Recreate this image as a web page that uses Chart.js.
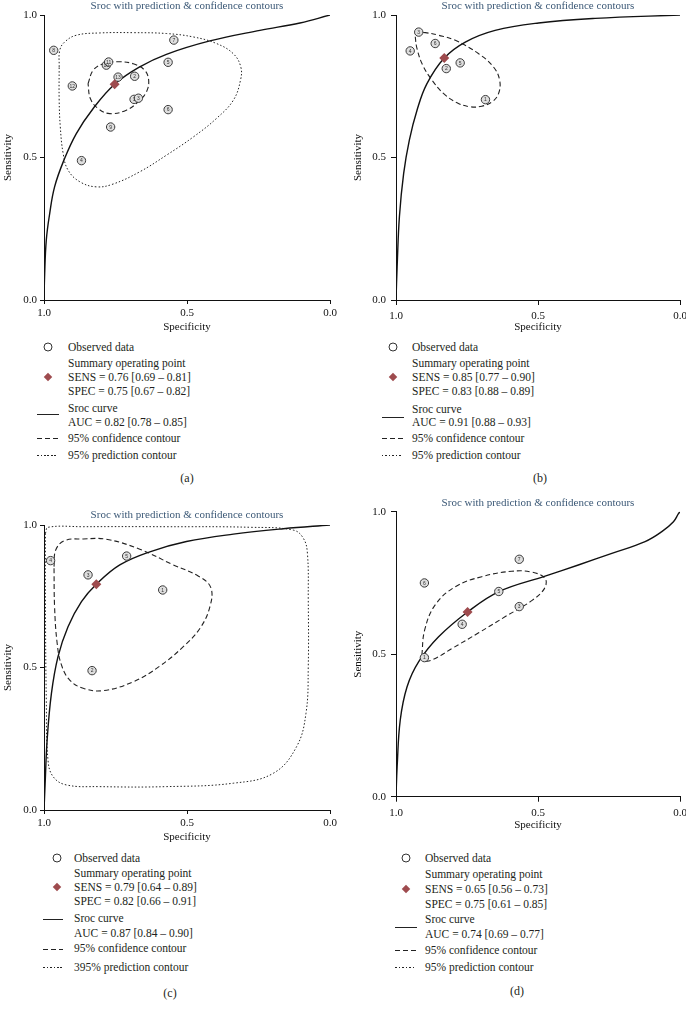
<!DOCTYPE html>
<html>
<head>
<meta charset="utf-8">
<script src="https://cdn.jsdelivr.net/npm/chart.js@4.4.1/dist/chart.umd.min.js"></script>
<style>
body { margin: 0; background: #fff; width: 686px; height: 1009px; position: relative; overflow: hidden; font-family: "Liberation Serif", serif; }
canvas { position: absolute; }
.t { position: absolute; font-size: 11.5px; line-height: 14px; color: #231f20; white-space: nowrap; }
.cap { position: absolute; font-size: 12px; line-height: 14px; color: #231f20; transform: translateX(-50%); }
.circ { position: absolute; width: 7px; height: 7px; border: 1.3px solid #333; border-radius: 50%; background: #fff; transform: translate(-50%, -50%); }
.dia { position: absolute; width: 6px; height: 6px; background: #9e4b4e; transform: translate(-50%, -50%) rotate(45deg); }
.ln { position: absolute; height: 1.3px; background: #222; }
.dash { position: absolute; height: 1.2px; background: repeating-linear-gradient(90deg, #222 0 5px, transparent 5px 8px); }
.dot { position: absolute; height: 1px; background: repeating-linear-gradient(90deg, #222 0 1.5px, transparent 1.5px 3.5px); }
</style>
</head>
<body>
<canvas id="ca" width="345" height="340" style="left:0;top:0"></canvas>
<canvas id="cb" width="341" height="340" style="left:345px;top:0"></canvas>
<canvas id="cc" width="345" height="350" style="left:0;top:500px"></canvas>
<canvas id="cd" width="341" height="346" style="left:345px;top:490px"></canvas>

<!-- legend (a) -->
<div class="circ" style="left:48px;top:347px"></div>
<div class="t" style="left:68px;top:340px">Observed data</div>
<div class="t" style="left:68px;top:355.7px">Summary operating point</div>
<div class="dia" style="left:48px;top:377px"></div>
<div class="t" style="left:68px;top:369.7px">SENS = 0.76 [0.69 – 0.81]</div>
<div class="t" style="left:68px;top:384px">SPEC = 0.75 [0.67 – 0.82]</div>
<div class="ln" style="left:37px;top:414px;width:22px"></div>
<div class="t" style="left:68px;top:401px">Sroc curve</div>
<div class="t" style="left:68px;top:414.7px">AUC = 0.82 [0.78 – 0.85]</div>
<div class="dash" style="left:37px;top:438px;width:21px"></div>
<div class="t" style="left:68px;top:431px">95% confidence contour</div>
<div class="dot" style="left:37px;top:455px;width:21px"></div>
<div class="t" style="left:68px;top:448px">95% prediction contour</div>
<div class="cap" style="left:187px;top:471px">(a)</div>

<!-- legend (b) -->
<div class="circ" style="left:392.7px;top:347px"></div>
<div class="t" style="left:412px;top:340px">Observed data</div>
<div class="t" style="left:412px;top:355.7px">Summary operating point</div>
<div class="dia" style="left:392.7px;top:377px"></div>
<div class="t" style="left:412px;top:369.7px">SENS = 0.85 [0.77 – 0.90]</div>
<div class="t" style="left:412px;top:384px">SPEC = 0.83 [0.88 – 0.89]</div>
<div class="ln" style="left:382px;top:416.7px;width:22px"></div>
<div class="t" style="left:412px;top:401.7px">Sroc curve</div>
<div class="t" style="left:412px;top:414.7px">AUC = 0.91 [0.88 – 0.93]</div>
<div class="dash" style="left:382px;top:438px;width:21px"></div>
<div class="t" style="left:412px;top:431px">95% confidence contour</div>
<div class="dot" style="left:382px;top:455px;width:21px"></div>
<div class="t" style="left:412px;top:448px">95% prediction contour</div>
<div class="cap" style="left:540px;top:471px">(b)</div>

<!-- legend (c) -->
<div class="circ" style="left:57px;top:858px"></div>
<div class="t" style="left:74px;top:850.7px">Observed data</div>
<div class="t" style="left:74px;top:865.7px">Summary operating point</div>
<div class="dia" style="left:57px;top:887px"></div>
<div class="t" style="left:74px;top:879.7px">SENS = 0.79 [0.64 – 0.89]</div>
<div class="t" style="left:74px;top:894px">SPEC = 0.82 [0.66 – 0.91]</div>
<div class="ln" style="left:43px;top:918.5px;width:20px"></div>
<div class="t" style="left:74px;top:911.3px">Sroc curve</div>
<div class="t" style="left:74px;top:925.7px">AUC = 0.87 [0.84 – 0.90]</div>
<div class="dash" style="left:43px;top:948.5px;width:20px"></div>
<div class="t" style="left:74px;top:941.3px">95% confidence contour</div>
<div class="dot" style="left:43px;top:966.5px;width:20px"></div>
<div class="t" style="left:74px;top:959.7px">395% prediction contour</div>
<div class="cap" style="left:170px;top:986px">(c)</div>

<!-- legend (d) -->
<div class="circ" style="left:405.7px;top:858px"></div>
<div class="t" style="left:425px;top:851.3px">Observed data</div>
<div class="t" style="left:425px;top:867.3px">Summary operating point</div>
<div class="dia" style="left:405.7px;top:889px"></div>
<div class="t" style="left:425px;top:882px">SENS = 0.65 [0.56 – 0.73]</div>
<div class="t" style="left:425px;top:897.3px">SPEC = 0.75 [0.61 – 0.85]</div>
<div class="ln" style="left:395px;top:927px;width:22px"></div>
<div class="t" style="left:425px;top:912.3px">Sroc curve</div>
<div class="t" style="left:425px;top:927.3px">AUC = 0.74 [0.69 – 0.77]</div>
<div class="dash" style="left:395px;top:950px;width:21px"></div>
<div class="t" style="left:425px;top:943px">95% confidence contour</div>
<div class="dot" style="left:395px;top:967px;width:21px"></div>
<div class="t" style="left:425px;top:959.7px">95% prediction contour</div>
<div class="cap" style="left:517px;top:984px">(d)</div>

<script>
// axis ticks shared by all four panels
const tickVals = [0, 0.5, 1];

// ---- panel (a) ----
const idsA = [1, 2, 3, 4, 5, 6, 7, 8, 9, 10, 11, 12, 13];
const specA = [0.685, 0.683, 0.670, 0.869, 0.566, 0.566, 0.546, 0.966, 0.767, 0.782, 0.774, 0.901, 0.741];
const sensA = [0.704, 0.785, 0.708, 0.489, 0.834, 0.668, 0.912, 0.876, 0.607, 0.824, 0.835, 0.751, 0.782];
const sumA = [0.753, 0.757];
const srocSpecA = [1.0, 0.998, 0.992, 0.980, 0.963, 0.931, 0.887, 0.828, 0.753, 0.665, 0.572, 0.420, 0.245, 0.105, 0.0];
const srocSensA = [0.0, 0.082, 0.210, 0.304, 0.397, 0.489, 0.584, 0.672, 0.757, 0.818, 0.862, 0.909, 0.946, 0.972, 1.0];
const confSpecA = [0.846, 0.828, 0.793, 0.741, 0.688, 0.648, 0.634, 0.642, 0.671, 0.712, 0.770, 0.811, 0.838];
const confSensA = [0.759, 0.806, 0.829, 0.836, 0.829, 0.806, 0.771, 0.730, 0.695, 0.666, 0.654, 0.672, 0.707];
const predSpecA = [0.947, 0.945, 0.928, 0.887, 0.805, 0.688, 0.572, 0.478, 0.397, 0.338, 0.312, 0.313, 0.338, 0.397, 0.478, 0.572, 0.665, 0.758, 0.817, 0.875, 0.916, 0.933, 0.943, 0.947];
const predSensA = [0.818, 0.876, 0.905, 0.929, 0.937, 0.938, 0.935, 0.923, 0.900, 0.864, 0.818, 0.771, 0.701, 0.637, 0.572, 0.508, 0.450, 0.407, 0.397, 0.415, 0.456, 0.514, 0.607, 0.701];

// ---- panel (b) ----
const idsB = [1, 2, 3, 4, 5, 6];
const specB = [0.685, 0.823, 0.920, 0.950, 0.774, 0.862];
const sensB = [0.703, 0.812, 0.940, 0.874, 0.832, 0.900];
const sumB = [0.830, 0.849];
const srocSpecB = [1.0, 0.996, 0.988, 0.973, 0.953, 0.926, 0.891, 0.830, 0.756, 0.651, 0.498, 0.299, 0.0];
const srocSensB = [0.0, 0.117, 0.292, 0.444, 0.561, 0.666, 0.759, 0.849, 0.905, 0.946, 0.972, 0.988, 1.0];
const confSpecB = [0.932, 0.897, 0.850, 0.791, 0.709, 0.657, 0.635, 0.639, 0.662, 0.698, 0.739, 0.785, 0.832, 0.873, 0.906, 0.926, 0.932];
const confSensB = [0.938, 0.938, 0.929, 0.911, 0.864, 0.818, 0.771, 0.724, 0.695, 0.680, 0.678, 0.692, 0.724, 0.771, 0.824, 0.882, 0.923];

// ---- panel (c) ----
const idsC = [1, 2, 3, 4, 5];
const specC = [0.585, 0.832, 0.846, 0.977, 0.711];
const sensC = [0.772, 0.489, 0.825, 0.875, 0.891];
const sumC = [0.817, 0.792];
const srocSpecC = [1.0, 0.996, 0.989, 0.974, 0.951, 0.916, 0.869, 0.817, 0.735, 0.630, 0.502, 0.338, 0.163, 0.0];
const srocSensC = [0.0, 0.094, 0.246, 0.409, 0.538, 0.643, 0.731, 0.792, 0.860, 0.906, 0.942, 0.968, 0.987, 1.0];
const confSpecC = [0.965, 0.959, 0.928, 0.863, 0.782, 0.665, 0.548, 0.461, 0.417, 0.420, 0.455, 0.513, 0.595, 0.688, 0.793, 0.863, 0.910, 0.939, 0.954, 0.963];
const confSensC = [0.854, 0.912, 0.945, 0.951, 0.950, 0.915, 0.860, 0.821, 0.781, 0.713, 0.637, 0.573, 0.505, 0.450, 0.419, 0.427, 0.456, 0.509, 0.585, 0.713];
const predSpecC = [0.995, 0.986, 0.863, 0.572, 0.280, 0.128, 0.093, 0.079, 0.076, 0.076, 0.084, 0.117, 0.198, 0.338, 0.572, 0.805, 0.922, 0.968, 0.986, 0.992, 0.995];
const predSensC = [0.971, 0.992, 0.994, 0.994, 0.992, 0.982, 0.953, 0.901, 0.737, 0.503, 0.339, 0.222, 0.129, 0.094, 0.082, 0.082, 0.088, 0.117, 0.175, 0.386, 0.737];

// ---- panel (d) ----
const idsD = [1, 3, 4, 5, 6, 7];
const specD = [0.900, 0.566, 0.767, 0.638, 0.900, 0.566];
const sensD = [0.488, 0.667, 0.605, 0.720, 0.750, 0.833];
const sumD = [0.748, 0.648];
const srocSpecD = [1.0, 0.996, 0.985, 0.961, 0.920, 0.850, 0.748, 0.639, 0.475, 0.358, 0.240, 0.123, 0.064, 0.023, 0.006, 0.0];
const srocSensD = [0.0, 0.105, 0.269, 0.386, 0.474, 0.561, 0.648, 0.719, 0.774, 0.813, 0.854, 0.895, 0.930, 0.965, 0.992, 1.0];
const confSpecD = [0.909, 0.899, 0.862, 0.791, 0.698, 0.592, 0.522, 0.475, 0.477, 0.522, 0.615, 0.709, 0.803, 0.868, 0.897];
const confSensD = [0.497, 0.585, 0.673, 0.737, 0.772, 0.791, 0.788, 0.766, 0.731, 0.688, 0.632, 0.575, 0.520, 0.482, 0.477];

const SERIF = "'Liberation Serif', serif";

function pts(xs, ys) {
  return xs.map((x, i) => ({ x: x, y: ys[i] }));
}
function loop(xs, ys) {
  return pts(xs.concat([xs[0]]), ys.concat([ys[0]]));
}

// study numbers inside the observed circles
const idLabels = {
  id: "idLabels",
  afterDatasetsDraw(chart) {
    const ds = chart.data.datasets[1];
    const meta = chart.getDatasetMeta(1);
    const ctx = chart.ctx;
    ctx.save();
    ctx.font = "5px 'Liberation Sans', sans-serif";
    ctx.fillStyle = "#333";
    ctx.textAlign = "center";
    ctx.textBaseline = "middle";
    meta.data.forEach((p, i) => ctx.fillText(String(ds.ids[i]), p.x, p.y + 0.3));
    ctx.restore();
  }
};

function panel(id, d, lay) {
  const datasets = [
    { data: pts([d.sum[0]], [d.sum[1]]), pointStyle: "rectRot", pointRadius: 5, backgroundColor: "#9e4b4e", borderWidth: 0 },
    { data: pts(d.spec, d.sens), ids: d.ids, pointRadius: 4.2, backgroundColor: "#dedede", borderColor: "#3a3a3a", borderWidth: 1 },
    { data: pts(d.srocSpec, d.srocSens), showLine: true, borderColor: "#111", borderWidth: 1.4, pointRadius: 0, tension: 0.4 },
    { data: loop(d.confSpec, d.confSens), showLine: true, borderColor: "#222", borderWidth: 1.1, borderDash: [5, 3], pointRadius: 0, tension: 0.4 }
  ];
  if (d.predSpec) {
    datasets.push({ data: loop(d.predSpec, d.predSens), showLine: true, borderColor: "#222", borderWidth: 1, borderDash: [1.5, 2], pointRadius: 0, tension: 0.4 });
  }
  const font = { family: SERIF, size: 11, weight: "normal" };
  new Chart(document.getElementById(id), {
    type: "scatter",
    data: { datasets: datasets },
    plugins: [idLabels],
    options: {
      responsive: false,
      animation: false,
      devicePixelRatio: 1,
      events: [],
      layout: { autoPadding: false, padding: { left: 0, right: lay.right, top: 0, bottom: 0 } },
      plugins: {
        legend: { display: false },
        tooltip: { enabled: false },
        title: {
          display: true,
          fullSize: false,
          text: "Sroc with prediction & confidence contours",
          color: "#3b5876",
          font: font,
          padding: { top: lay.titleTop, bottom: lay.titleBottom }
        }
      },
      scales: {
        x: {
          type: "linear", min: 0, max: 1, reverse: true,
          afterBuildTicks: s => { s.ticks = tickVals.map(v => ({ value: v })); },
          afterFit: s => { s.height = lay.xh; },
          ticks: { callback: v => v.toFixed(1), color: "#111", font: font, padding: lay.tp, maxRotation: 0, autoSkip: false },
          grid: { drawOnChartArea: false, tickLength: lay.tl, color: "#111" },
          border: { color: "#111", width: 1 },
          title: { display: true, text: "Specificity", color: "#111", font: font, padding: { top: 0, bottom: lay.xtb } }
        },
        y: {
          type: "linear", min: 0, max: 1,
          afterBuildTicks: s => { s.ticks = tickVals.map(v => ({ value: v })); },
          afterFit: s => { s.width = lay.yw; },
          ticks: { callback: v => v.toFixed(1), color: "#111", font: font, padding: lay.tp, autoSkip: false },
          grid: { drawOnChartArea: false, tickLength: lay.tl, color: "#111" },
          border: { color: "#111", width: 1 },
          title: { display: true, text: "Sensitivity", color: "#111", font: font, padding: { top: lay.ytt, bottom: 0 } }
        }
      }
    }
  });
}

panel("ca",
  { ids: idsA, spec: specA, sens: sensA, sum: sumA, srocSpec: srocSpecA, srocSens: srocSensA,
    confSpec: confSpecA, confSens: confSensA, predSpec: predSpecA, predSens: predSensA },
  { right: 15, titleTop: 0, titleBottom: 1.8, xh: 40, yw: 44, tl: 4, tp: 3, xtb: 6.4, ytt: 1.4 });

panel("cb",
  { ids: idsB, spec: specB, sens: sensB, sum: sumB, srocSpec: srocSpecB, srocSens: srocSensB,
    confSpec: confSpecB, confSens: confSensB },
  { right: 6, titleTop: 0, titleBottom: 1.8, xh: 40, yw: 51, tl: 5, tp: 5, xtb: 6.4, ytt: 6.4 });

panel("cc",
  { ids: idsC, spec: specC, sens: sensC, sum: sumC, srocSpec: srocSpecC, srocSens: srocSensC,
    confSpec: confSpecC, confSens: confSensC, predSpec: predSpecC, predSens: predSensC },
  { right: 15, titleTop: 8.4, titleBottom: 3.4, xh: 40, yw: 44, tl: 4, tp: 3, xtb: 6.4, ytt: 1.4 });

panel("cd",
  { ids: idsD, spec: specD, sens: sensD, sum: sumD, srocSpec: srocSpecD, srocSens: srocSensD,
    confSpec: confSpecD, confSens: confSensD },
  { right: 6, titleTop: 6.7, titleBottom: 1.8, xh: 39.3, yw: 51, tl: 5, tp: 5, xtb: 4.4, ytt: 6.4 });
</script>
</body>
</html>
